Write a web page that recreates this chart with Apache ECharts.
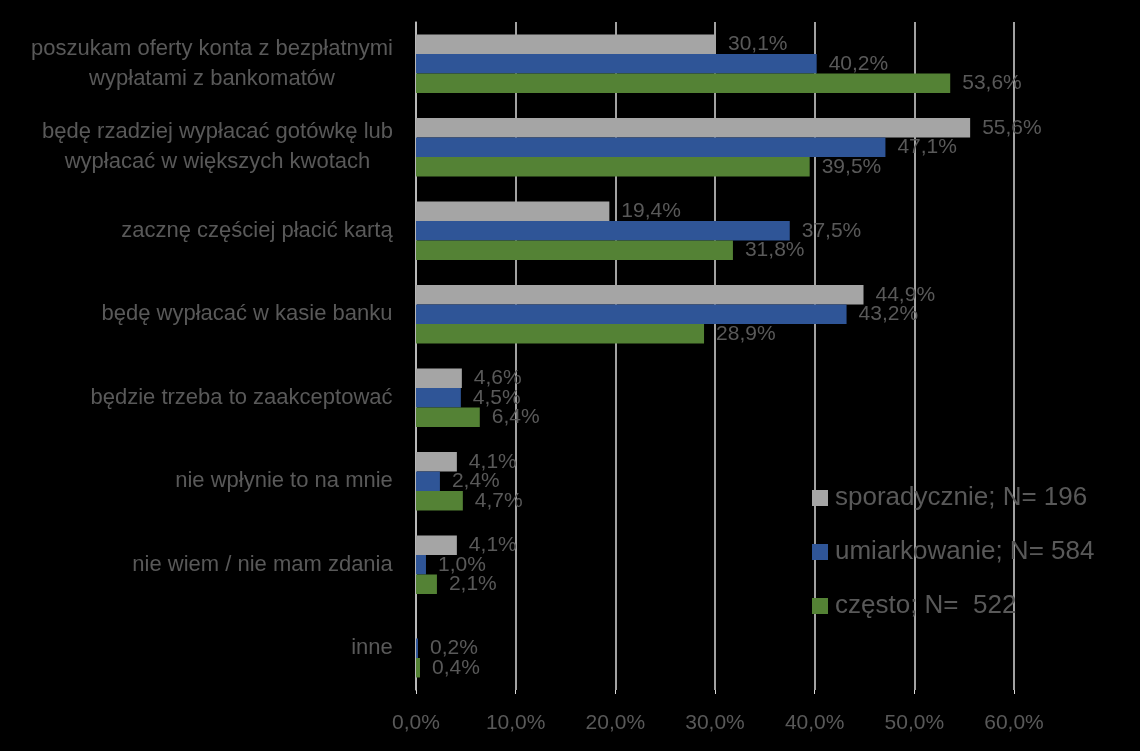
<!DOCTYPE html>
<html>
<head>
<meta charset="UTF-8">
<style>
	html, body { margin: 0; padding: 0; background: #000; }
	#chart { width: 1140px; height: 751px; }
</style>
</head>
<body>
	<div id="chart"></div>
	<script src="https://cdn.jsdelivr.net/npm/echarts@6/dist/echarts.min.js"></script>
<script>
	var categories = [
		'poszukam oferty konta z bezpłatnymi\nwypłatami z bankomatów',
		'będę rzadziej wypłacać gotówkę lub\nwypłacać w większych kwotach',
		'zacznę częściej płacić kartą',
		'będę wypłacać w kasie banku',
		'będzie trzeba to zaakceptować',
		'nie wpłynie to na mnie',
		'nie wiem / nie mam zdania',
		'inne'
	];
	var seriesNames = ['sporadycznie; N= 196', 'umiarkowanie; N= 584', 'często; N=  522'];
	var sporadycznie = [30.1, 55.6, 19.4, 44.9, 4.6, 4.1, 4.1, null];
	var umiarkowanie = [40.2, 47.1, 37.5, 43.2, 4.5, 2.4, 1.0, 0.2];
	var czesto = [53.6, 39.5, 31.8, 28.9, 6.4, 4.7, 2.1, 0.4];
	var xTicks = [0, 10, 20, 30, 40, 50, 60];

	var textColor = '#595959';
	var catSize = 22;

	// each multi-line label: lines centred inside the block, block right-aligned
	var cv = document.createElement('canvas').getContext('2d');
	cv.font = catSize + 'px "Liberation Sans"';
	var rich = {};
	var catKeys = categories.map(function (c, i) {
		var lines = c.split('\n');
		var w = 0;
		lines.forEach(function (l) { w = Math.max(w, cv.measureText(l).width); });
		rich['c' + i] = { width: Math.ceil(w), align: 'center', fontSize: catSize, lineHeight: 30,
			color: textColor, fontFamily: 'Liberation Sans' };
		return 'c' + i;
	});

	function pct(v) {
		return v.toFixed(1).replace('.', ',') + '%';
	}

	var colors = ['#a5a5a5', '#2f5597', '#548235'];
	var allData = [sporadycznie, umiarkowanie, czesto];

	var myChart = echarts.init(document.getElementById('chart'));
	myChart.setOption({
		backgroundColor: '#000',
		textStyle: { fontFamily: 'Liberation Sans' },
		legend: {
			orient: 'vertical',
			left: 812,
			top: 485,
			padding: 0,
			itemWidth: 16,
			itemHeight: 16,
			itemGap: 28,
			icon: 'rect',
			textStyle: { color: textColor, fontSize: 26, padding: [0, 0, 0, 2] },
			data: seriesNames
		},
		grid: { left: 416, right: 126, top: 22, bottom: 61 },
		xAxis: {
			type: 'value',
			min: 0,
			max: 60,
			interval: 10,
			axisLine: { show: false },
			axisTick: { show: true, length: 4, lineStyle: { color: '#d9d9d9' } },
			splitLine: { show: true, lineStyle: { color: '#d9d9d9', width: 1.5 } },
			axisLabel: {
				color: textColor, fontSize: 21, margin: 23,
				formatter: function (v) { return xTicks.indexOf(v) >= 0 ? pct(v) : ''; }
			}
		},
		yAxis: {
			type: 'category',
			inverse: true,
			data: categories,
			axisLine: { show: true, lineStyle: { color: '#bfbfbf', width: 1.5 } },
			axisTick: { show: false },
			axisLabel: {
				margin: 23,
				formatter: function (v, i) {
					return v.split('\n').map(function (l) { return '{' + catKeys[i] + '|' + l + '}'; }).join('\n');
				},
				rich: rich
			}
		},
		series: allData.map(function (d, k) {
			return {
				name: seriesNames[k],
				type: 'bar',
				data: d,
				barGap: '0%',
				barCategoryGap: '30%',
				itemStyle: { color: colors[k] },
				label: {
					show: true,
					position: 'right',
					distance: 12,
					color: textColor,
					fontSize: 21,
					formatter: function (p) { return pct(p.value); }
				}
			};
		})
	});
</script>
</body>
</html>
